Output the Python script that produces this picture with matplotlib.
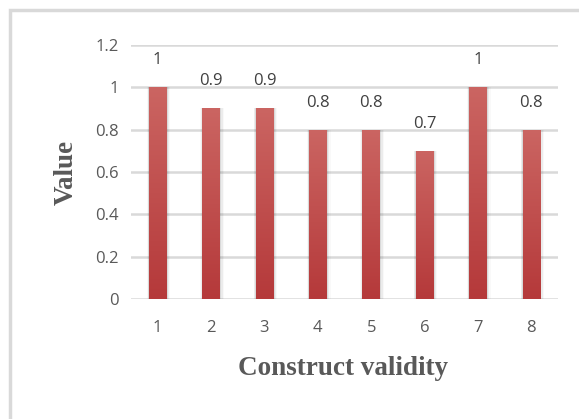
import numpy as np
import matplotlib
matplotlib.use("Agg")
import matplotlib.pyplot as plt
from matplotlib.patches import Rectangle
from matplotlib.colors import LinearSegmentedColormap

categories = ["1", "2", "3", "4", "5", "6", "7", "8"]
values = [1.0, 0.9, 0.9, 0.8, 0.8, 0.7, 1.0, 0.8]
value_labels = ["1", "0.9", "0.9", "0.8", "0.8", "0.7", "1", "0.8"]
y_ticks = [0, 0.2, 0.4, 0.6, 0.8, 1.0, 1.2]
y_tick_labels = ["0", "0.2", "0.4", "0.6", "0.8", "1", "1.2"]

W, H = 579, 419
fig = plt.figure(figsize=(W / 100, H / 100), dpi=100)
fig.patch.set_facecolor("white")

# outer chart frame
frame = Rectangle((10 / W, -0.05), 1.0, 1 - 10 / H + 0.05, transform=fig.transFigure,
                  fill=False, edgecolor="#D9D9D9", linewidth=2.5, zorder=0)
fig.patches.append(frame)

ax = fig.add_axes([131 / W, 1 - 299 / H, (558 - 131) / W, (299 - 45) / H])
ax.set_xlim(-0.5, len(categories) - 0.5)
ax.set_ylim(0, 1.2)

for s in ax.spines.values():
    s.set_visible(False)

ax.set_yticks(y_ticks)
ax.set_yticklabels(y_tick_labels)
ax.set_xticks(range(len(categories)))
ax.set_xticklabels(categories)
ax.tick_params(axis="both", length=0, colors="#595959", labelsize=12)
ax.tick_params(axis="y", pad=9)
ax.tick_params(axis="x", pad=15)
for lab in ax.get_xticklabels() + ax.get_yticklabels():
    lab.set_fontfamily("Open Sans")

for y in y_ticks:
    ax.axhline(y, color="#D9D9D9", linewidth=1.8, zorder=1)

cmap = LinearSegmentedColormap.from_list("bar", ["#B5393A", "#CB6562"])
grad = np.linspace(0, 1, 256).reshape(-1, 1)
bw = 0.33
for i, v in enumerate(values):
    # soft shadow along the bar sides
    for k, a in enumerate([0.08, 0.05, 0.025]):
        d = 0.025 * (k + 1)
        ax.add_patch(Rectangle((i - bw / 2 - d * 0.5, 0), bw + d * 1.5, v,
                               facecolor="black", alpha=a, edgecolor="none", zorder=2))
    im = ax.imshow(grad, cmap=cmap, aspect="auto", origin="lower",
                   extent=(i - bw / 2, i + bw / 2, 0, v), zorder=3)
    clip = Rectangle((i - bw / 2, 0), bw, v, transform=ax.transData)
    im.set_clip_path(clip)
    ax.annotate(value_labels[i], (i, v), xytext=(0, 19.5), textcoords="offset points",
                ha="center", va="center", fontsize=12, color="#404040",
                fontfamily="Open Sans")

ax.set_xlim(-0.5, len(categories) - 0.5)
ax.set_ylim(0, 1.2)

fig.text(66 / W, 1 - 172 / H, "Value", rotation=90, ha="center", va="center",
         fontsize=19.5, fontweight="bold", fontfamily="Liberation Serif", color="#595959")
fig.text(343 / W, 1 - 368 / H, "Construct validity", ha="center", va="center",
         fontsize=19.5, fontweight="bold", fontfamily="Liberation Serif", color="#595959")

fig.savefig("out.png", dpi=100)
